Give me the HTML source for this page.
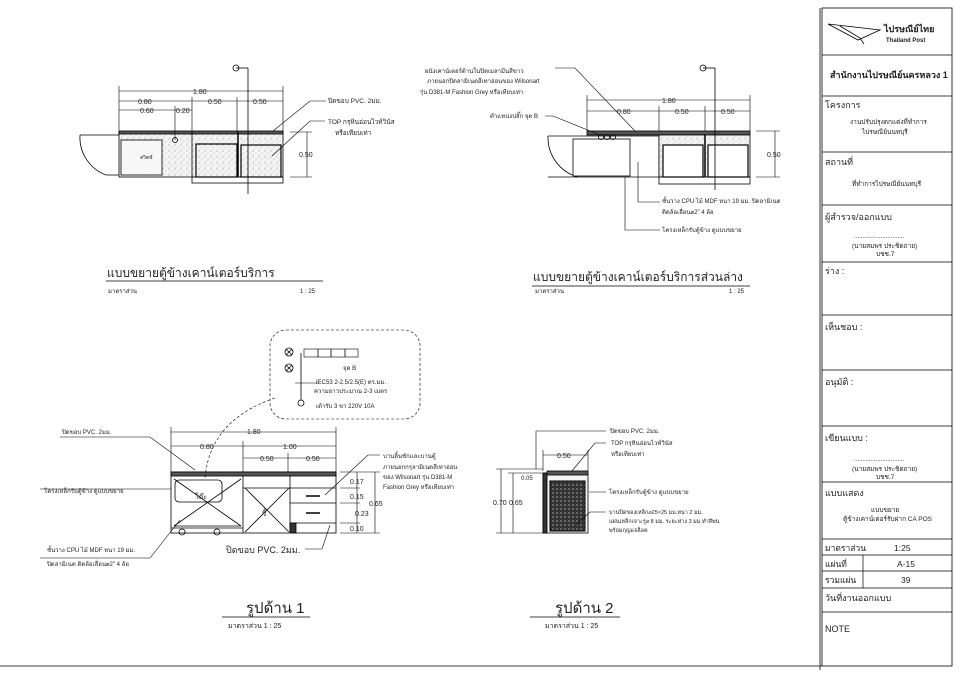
<!DOCTYPE html>
<html><head><meta charset="utf-8"><style>
html,body{margin:0;padding:0;background:#fff;}
svg{display:block;}
text{font-family:"Liberation Sans","Noto Sans CJK SC",sans-serif;fill:#222;}
</style></head><body>
<svg width="960" height="678" viewBox="0 0 960 678" xmlns="http://www.w3.org/2000/svg">
<defs>
<pattern id="st" width="6" height="6" patternUnits="userSpaceOnUse">
<rect width="6" height="6" fill="#f4f4f4"/><circle cx="1" cy="1" r="0.5" fill="#777"/><circle cx="4" cy="3" r="0.45" fill="#999"/><circle cx="2" cy="5" r="0.4" fill="#888"/></pattern>
<pattern id="gr" width="4" height="4" patternUnits="userSpaceOnUse"><rect width="4" height="4" fill="#333"/><rect width="2" height="2" fill="#666"/></pattern>
</defs>
<g stroke="#000" fill="none" stroke-width="0.8">
<line x1="0" y1="666" x2="822" y2="666"/>
<rect x="822" y="8" width="130" height="658"/>
<line x1="820" y1="8" x2="820" y2="670"/>
<g stroke-width="0.7">
<line x1="822" y1="55" x2="952" y2="55"/><line x1="822" y1="96" x2="952" y2="96"/>
<line x1="822" y1="152" x2="952" y2="152"/><line x1="822" y1="205" x2="952" y2="205"/>
<line x1="822" y1="262" x2="952" y2="262"/><line x1="822" y1="315" x2="952" y2="315"/>
<line x1="822" y1="370" x2="952" y2="370"/><line x1="822" y1="426" x2="952" y2="426"/>
<line x1="822" y1="482" x2="952" y2="482"/><line x1="822" y1="539" x2="952" y2="539"/>
<line x1="822" y1="555" x2="952" y2="555"/><line x1="822" y1="571" x2="952" y2="571"/>
<line x1="822" y1="588" x2="952" y2="588"/><line x1="822" y1="612" x2="952" y2="612"/>
<line x1="863" y1="555" x2="863" y2="588"/>
</g>
<path d="M828 24 L880 30 L858 40 Z M840 26 L860 38 L864 44" stroke-width="0.8"/>

<!-- PLAN 1 -->
<rect x="119" y="132" width="164" height="45" fill="url(#st)"/>
<rect x="119" y="131" width="164" height="3" fill="#555"/>
<line x1="192" y1="132" x2="192" y2="177"/><line x1="238" y1="132" x2="238" y2="177" stroke-width="1.5"/>
<rect x="121" y="140" width="41" height="35" fill="#f7f7f7"/>
<rect x="196" y="144" width="41" height="33" stroke-width="1.2"/>
<rect x="241" y="145" width="40" height="32" stroke-width="1.2"/>
<rect x="192" y="177" width="91" height="6"/>
<path d="M80 135 L119 135 M80 135 A40 40 0 0 0 106 175 L119 175"/>
<circle cx="175" cy="140" r="2.5"/>
<line x1="248" y1="68" x2="248" y2="194"/><circle cx="236" cy="68" r="3"/>
<line x1="236" y1="68" x2="248" y2="68"/>
<g stroke-width="0.6">
<line x1="119" y1="91" x2="283" y2="91"/><line x1="119" y1="101" x2="283" y2="101"/><line x1="119" y1="110" x2="192" y2="110"/>
<line x1="119" y1="86" x2="119" y2="132"/><line x1="283" y1="86" x2="283" y2="132"/><line x1="192" y1="97" x2="192" y2="132"/><line x1="237" y1="97" x2="237" y2="132"/><line x1="175" y1="106" x2="175" y2="140"/>
<line x1="307" y1="132" x2="307" y2="177"/><line x1="290" y1="132" x2="312" y2="132"/><line x1="290" y1="177" x2="312" y2="177"/>
<polyline points="326,101 310,101 273,131"/><polyline points="325,121 310,121 272,156"/>
</g>
<line x1="106" y1="281" x2="323" y2="281" stroke-width="0.7"/>

<!-- PLAN 2 -->
<rect x="587" y="131" width="163" height="4" fill="#555"/>
<path d="M548 136 L659 136 L659 177 L548 177 M548 136 A41 41 0 0 0 578 177"/>
<rect x="573" y="139" width="57" height="37" fill="#fff"/>
<rect x="659" y="135" width="91" height="42" fill="url(#st)"/>
<rect x="663" y="145" width="40" height="32" fill="#fff" stroke-width="1.2"/>
<rect x="708" y="145" width="40" height="32" fill="#fff" stroke-width="1.2"/>
<line x1="705" y1="135" x2="705" y2="177" stroke-width="1.5"/>
<rect x="659" y="177" width="91" height="7"/>
<circle cx="601" cy="137" r="2.5"/><circle cx="607" cy="137" r="2.5"/><circle cx="613" cy="137" r="2.5"/>
<line x1="715" y1="68" x2="715" y2="190"/><circle cx="703" cy="68" r="3"/><line x1="703" y1="68" x2="715" y2="68"/>
<g stroke-width="0.6">
<line x1="587" y1="100" x2="750" y2="100"/><line x1="587" y1="111" x2="750" y2="111"/>
<line x1="587" y1="95" x2="587" y2="131"/><line x1="750" y1="95" x2="750" y2="131"/><line x1="659" y1="106" x2="659" y2="131"/><line x1="705" y1="106" x2="705" y2="131"/>
<line x1="775" y1="131" x2="775" y2="177"/><line x1="756" y1="131" x2="780" y2="131"/><line x1="756" y1="177" x2="780" y2="177"/>
<polyline points="555,68 575,68 635,131"/><polyline points="545,116 553,116 600,135"/>
<polyline points="660,202 638,202 638,162"/><polyline points="660,230 625,230 625,177"/>
</g>
<line x1="532" y1="286" x2="750" y2="286" stroke-width="0.7"/>

<!-- ELEVATION 1 -->
<rect x="171" y="472" width="165" height="61"/>
<rect x="171" y="472" width="165" height="4" fill="#555"/>
<line x1="243" y1="476" x2="243" y2="533"/><line x1="290" y1="476" x2="290" y2="533"/>
<line x1="174" y1="479" x2="241" y2="526"/><line x1="241" y1="479" x2="174" y2="526"/>
<line x1="245" y1="488" x2="289" y2="532"/><line x1="289" y1="488" x2="245" y2="532"/>
<line x1="243" y1="488" x2="290" y2="488"/>
<line x1="290" y1="488" x2="336" y2="488"/><line x1="290" y1="503" x2="336" y2="503"/><line x1="290" y1="523" x2="336" y2="523"/>
<line x1="306" y1="496" x2="320" y2="496" stroke-width="1.5"/><line x1="306" y1="513" x2="320" y2="513" stroke-width="1.5"/>
<rect x="175" y="480" width="47" height="22" rx="4"/>
<line x1="174" y1="526" x2="241" y2="526"/><line x1="171" y1="528" x2="243" y2="528"/>
<circle cx="182" cy="532" r="3"/><circle cx="217" cy="532" r="3"/>
<rect x="290" y="523" width="6" height="10" fill="#333"/>
<rect x="270" y="330" width="150" height="89" rx="16" stroke-dasharray="3,2" stroke-width="0.6"/>
<path d="M275 398 Q210 420 205 478" stroke-dasharray="3,2" stroke-width="0.6"/>
<circle cx="289" cy="352" r="4"/><path d="M286 349 l6 6 M292 349 l-6 6"/>
<circle cx="289" cy="368" r="4"/><path d="M286 365 l6 6 M292 365 l-6 6"/>
<rect x="304" y="349" width="54" height="8" stroke-width="0.6"/>
<line x1="318" y1="349" x2="318" y2="357"/><line x1="331" y1="349" x2="331" y2="357"/><line x1="345" y1="349" x2="345" y2="357"/>
<line x1="301" y1="353" x2="301" y2="400"/><circle cx="301" cy="403" r="3"/>
<line x1="295" y1="383" x2="318" y2="383" stroke-width="0.6"/>
<g stroke-width="0.6">
<line x1="171" y1="432" x2="336" y2="432"/><line x1="171" y1="446" x2="336" y2="446"/><line x1="243" y1="458" x2="336" y2="458"/>
<line x1="171" y1="427" x2="171" y2="472"/><line x1="336" y1="427" x2="336" y2="472"/><line x1="243" y1="441" x2="243" y2="472"/><line x1="288" y1="453" x2="288" y2="472"/>
<line x1="340" y1="472" x2="380" y2="472"/><line x1="340" y1="533" x2="380" y2="533"/>
<line x1="340" y1="488" x2="360" y2="488"/><line x1="340" y1="503" x2="360" y2="503"/><line x1="340" y1="523" x2="360" y2="523"/>
<line x1="357" y1="472" x2="357" y2="533"/><line x1="375" y1="472" x2="375" y2="533"/>
<polyline points="380,455 368,455 325,495"/>
<polyline points="60,437 150,437 195,470"/><polyline points="40,489 171,489"/>
<polyline points="40,558 150,558 180,520"/><polyline points="305,549 322,549 330,525"/>
</g>
<line x1="222" y1="617" x2="310" y2="617" stroke-width="0.7"/>

<!-- ELEVATION 2 -->
<rect x="543" y="473" width="45" height="60" fill="#f4f4f4"/>
<rect x="543" y="473" width="4" height="60" fill="#333"/>
<rect x="547" y="471" width="41" height="4" fill="#555"/>
<rect x="550" y="481" width="35" height="50" fill="url(#gr)" stroke-width="1"/>
<g stroke-width="0.6">
<line x1="543" y1="455" x2="588" y2="455"/><line x1="543" y1="450" x2="543" y2="471"/><line x1="588" y1="450" x2="588" y2="471"/>
<line x1="501" y1="469" x2="501" y2="533"/><line x1="513" y1="473" x2="513" y2="533"/>
<line x1="496" y1="469" x2="543" y2="469"/><line x1="496" y1="533" x2="543" y2="533"/><line x1="508" y1="473" x2="543" y2="473"/>
<polyline points="606,431 536,431 536,469"/><polyline points="606,443 595,443 572,471"/>
<polyline points="606,492 589,492"/><polyline points="606,512 590,512 576,525"/>
</g>
<line x1="530" y1="617" x2="620" y2="617" stroke-width="0.7"/>
</g>

<g font-size="7">
<text x="193" y="94" fill="#222" stroke="none" style="paint-order:stroke">1.80</text>
<text x="138" y="104">0.80</text><text x="208" y="104">0.50</text><text x="253" y="104">0.50</text>
<text x="140" y="113">0.60</text><text x="176" y="113">0.20</text>
<text x="299" y="157">0.50</text>
<text x="328" y="103" font-size="6.5">ปิดขอบ PVC. 2มม.</text>
<text x="328" y="124" font-size="6.5">TOP กรุหินอ่อนไวท์วินัส</text><text x="335" y="135" font-size="6.5">หรือเทียบเท่า</text>
<text x="140" y="159" font-size="5">สวิตช์</text>
<text x="107" y="277" font-size="12">แบบขยายตู้ข้างเคาน์เตอร์บริการ</text>
<text x="108" y="293" font-size="6">มาตราส่วน</text><text x="300" y="293" font-size="6">1 : 25</text>

<text x="662" y="103">1.80</text>
<text x="617" y="114">0.80</text><text x="675" y="114">0.50</text><text x="721" y="114">0.50</text>
<text x="767" y="157">0.50</text>
<text x="425" y="73" font-size="6">ผนังเคาน์เตอร์ด้านในปิดเมลามีนสีขาว</text>
<text x="427" y="83" font-size="6">ภายนอกปิดลามิเนตสีเทาอ่อนของ Wilsonart</text>
<text x="420" y="94" font-size="6">รุ่น D381-M Fashion Grey หรือเทียบเท่า</text>
<text x="490" y="118" font-size="6">ตำแหน่งปลั๊ก จุด B</text>
<text x="662" y="203" font-size="6">ชั้นวาง CPU ไม้ MDF หนา 19 มม. ปิดลามิเนต</text>
<text x="662" y="214" font-size="6">ติดล้อเลื่อน⌀2" 4 ล้อ</text>
<text x="662" y="232" font-size="6">โครงเหล็กรับตู้ข้าง ดูแบบขยาย</text>
<text x="533" y="281" font-size="12">แบบขยายตู้ข้างเคาน์เตอร์บริการส่วนล่าง</text>
<text x="535" y="293" font-size="6">มาตราส่วน</text><text x="729" y="293" font-size="6">1 : 25</text>

<text x="247" y="434">1.80</text><text x="200" y="449">0.80</text><text x="283" y="449">1.00</text>
<text x="260" y="461">0.50</text><text x="306" y="461">0.50</text>
<text x="350" y="484">0.17</text><text x="350" y="499">0.15</text><text x="369" y="506">0.65</text>
<text x="355" y="516">0.23</text><text x="350" y="531">0.10</text>
<text x="343" y="370" font-size="6">จุด B</text>
<text x="316" y="384" font-size="6">IEC53 2-2.5/2.5(E) ตร.มม.</text>
<text x="314" y="393" font-size="6">ความยาวประมาณ 2-3 เมตร</text>
<text x="316" y="408" font-size="6">เต้ารับ 3 ขา 220V 10A</text>
<text x="195" y="499" font-size="7">โต๊ะ</text><text x="262" y="514">ตู้</text>
<text x="383" y="458" font-size="6">บานลิ้นชักและบานตู้</text>
<text x="383" y="469" font-size="6">ภายนอกกรุลามิเนตสีเทาอ่อน</text>
<text x="383" y="479" font-size="6">ของ Wilsonart รุ่น D381-M</text>
<text x="383" y="489" font-size="6">Fashion Grey หรือเทียบเท่า</text>
<text x="226" y="553" font-size="9">ปิดขอบ  PVC.  2มม.</text>
<text x="62" y="434" font-size="6">ปิดขอบ PVC. 2มม.</text>
<text x="44" y="493" font-size="6">โครงเหล็กรับตู้ข้าง ดูแบบขยาย</text>
<text x="47" y="552" font-size="6">ชั้นวาง CPU ไม้ MDF หนา 19 มม.</text>
<text x="47" y="566" font-size="6">ปิดลามิเนต ติดล้อเลื่อน⌀2" 4 ล้อ</text>
<text x="246" y="613" font-size="15">รูปด้าน 1</text>
<text x="228" y="628" font-size="7">มาตราส่วน      1  :  25</text>

<text x="557" y="458">0.50</text><text x="521" y="480" font-size="6">0.05</text>
<text x="493" y="505">0.70</text><text x="509" y="505">0.65</text>
<text x="610" y="433" font-size="6">ปิดขอบ PVC. 2มม.</text>
<text x="611" y="445" font-size="6">TOP กรุหินอ่อนไวท์วินัส</text>
<text x="611" y="456" font-size="6">หรือเทียบเท่า</text>
<text x="609" y="494" font-size="6">โครงเหล็กรับตู้ข้าง ดูแบบขยาย</text>
<text x="609" y="514" font-size="5.5">บานปิดของเหล็ก⌀25×25 มม.หนา 2 มม.</text>
<text x="609" y="523" font-size="5.5">แผ่นเหล็กเจาะรู⌀ 8 มม. ระยะห่าง 3 มม.ทำสีพ่น</text>
<text x="609" y="532" font-size="5.5">พร้อมกุญแจล็อค</text>
<text x="555" y="613" font-size="15">รูปด้าน 2</text>
<text x="545" y="628" font-size="7">มาตราส่วน      1  :  25</text>

<text x="884" y="32" font-size="9" font-weight="bold" fill="#555">ไปรษณีย์ไทย</text>
<text x="886" y="42" font-size="6" font-weight="bold" fill="#555">Thailand Post</text>
<text x="830" y="78" font-size="9" font-weight="bold">สำนักงานไปรษณีย์นครหลวง 1</text>
<text x="825" y="108" font-size="9">โครงการ</text>
<text x="850" y="124" font-size="6.5">งานปรับปรุงตกแต่งที่ทำการ</text>
<text x="862" y="134" font-size="6.5">ไปรษณีย์นนทบุรี</text>
<text x="825" y="165" font-size="9">สถานที่</text>
<text x="852" y="186" font-size="6.5">ที่ทำการไปรษณีย์นนทบุรี</text>
<text x="825" y="220" font-size="9">ผู้สำรวจ/ออกแบบ</text>
<text x="854" y="238" font-size="6">..............................</text>
<text x="852" y="248" font-size="6.5">(นายสมพร ประชิตถาย)</text>
<text x="876" y="256" font-size="6.5">บชช.7</text>
<text x="825" y="274" font-size="9">ร่าง :</text>
<text x="825" y="330" font-size="9">เห็นชอบ :</text>
<text x="825" y="385" font-size="9">อนุมัติ :</text>
<text x="825" y="441" font-size="9">เขียนแบบ :</text>
<text x="854" y="461" font-size="6">..............................</text>
<text x="852" y="471" font-size="6.5">(นายสมพร ประชิตถาย)</text>
<text x="876" y="479" font-size="6.5">บชช.7</text>
<text x="825" y="496" font-size="9">แบบแสดง</text>
<text x="871" y="512" font-size="6.5">แบบขยาย</text>
<text x="843" y="521" font-size="6.5">ตู้ข้างเคาน์เตอร์รับฝาก CA POS</text>
<text x="825" y="551" font-size="8.5">มาตราส่วน</text><text x="894" y="551" font-size="8.5">1:25</text>
<text x="825" y="567" font-size="8.5">แผ่นที่</text><text x="897" y="567" font-size="8.5">A-15</text>
<text x="825" y="583" font-size="8.5">รวมแผ่น</text><text x="901" y="583" font-size="8.5">39</text>
<text x="825" y="601" font-size="9">วันที่งานออกแบบ</text>
<text x="825" y="632" font-size="9">NOTE</text>
</g>
</svg>
</body></html>
